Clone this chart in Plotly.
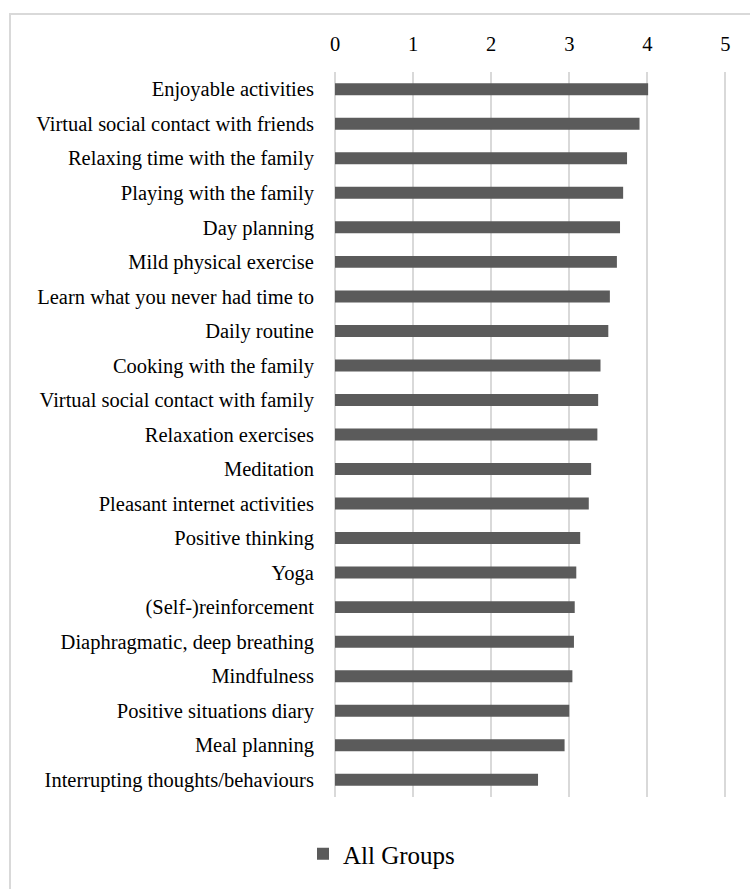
import plotly.graph_objects as go

# Mean rating per coping activity (all groups)
activities = [
    "Enjoyable activities",
    "Virtual social contact with friends",
    "Relaxing time with the family",
    "Playing with the family",
    "Day planning",
    "Mild physical exercise",
    "Learn what you never had time to",
    "Daily routine",
    "Cooking with the family",
    "Virtual social contact with family",
    "Relaxation exercises",
    "Meditation",
    "Pleasant internet activities",
    "Positive thinking",
    "Yoga",
    "(Self-)reinforcement",
    "Diaphragmatic, deep breathing",
    "Mindfulness",
    "Positive situations diary",
    "Meal planning",
    "Interrupting thoughts/behaviours",
]
scores = [4.01, 3.90, 3.74, 3.69, 3.65, 3.61, 3.52, 3.50, 3.40, 3.37, 3.36,
          3.28, 3.25, 3.14, 3.09, 3.07, 3.06, 3.04, 3.00, 2.94, 2.60]
x_ticks = [0, 1, 2, 3, 4, 5]
series_name = "All Groups"

W, H = 750, 889
X_MAX = 5.02            # a little headroom so the gridline at 5 is drawn
ML, MT, MB = 335, 72, 92
PW = round(78 * X_MAX)
MR = W - ML - PW
PH = H - MT - MB

FONT = "Liberation Serif"
GRID = "#d9d9d9"
BAR = "#5b5b5b"

fig = go.Figure(
    go.Bar(
        x=scores,
        y=activities,
        orientation="h",
        name=series_name,
        marker=dict(color=BAR, line=dict(width=0)),
        showlegend=True,
    )
)

# outer chart frame
fig.add_shape(
    type="rect", xref="paper", yref="paper",
    x0=(10 - ML) / PW, x1=(W + 20 - ML) / PW,
    y0=-(H + 20 - MT - PH) / PH, y1=(MT + PH - 14) / PH,
    line=dict(color=GRID, width=2), fillcolor="rgba(0,0,0,0)", layer="below",
)

fig.update_layout(
    width=W, height=H,
    margin=dict(l=ML, r=MR, t=MT, b=MB, pad=0),
    paper_bgcolor="white", plot_bgcolor="white",
    font=dict(family=FONT, size=20.5, color="#000000"),
    bargap=0.653,
    xaxis=dict(
        side="top", range=[0, X_MAX], tickvals=x_ticks,
        showgrid=True, gridcolor=GRID, gridwidth=2,
        zeroline=True, zerolinecolor=GRID, zerolinewidth=2,
        showline=False, ticks="outside", ticklen=12, tickcolor="rgba(0,0,0,0)",
        tickfont=dict(family=FONT, size=20.5, color="#000000"),
        fixedrange=True,
    ),
    yaxis=dict(
        autorange="reversed", showgrid=False, showline=False, zeroline=False,
        ticks="outside", ticklen=16, tickcolor="rgba(0,0,0,0)",
        tickfont=dict(family=FONT, size=20.5, color="#000000"),
    ),
    legend=dict(
        orientation="h", xanchor="left", yanchor="middle",
        x=(303 - ML) / PW, y=-(854 - MT - PH) / PH,
        font=dict(family=FONT, size=25, color="#000000"),
        bgcolor="rgba(0,0,0,0)",
    ),
    bargroupgap=0,
)

fig.write_html("out.html")
